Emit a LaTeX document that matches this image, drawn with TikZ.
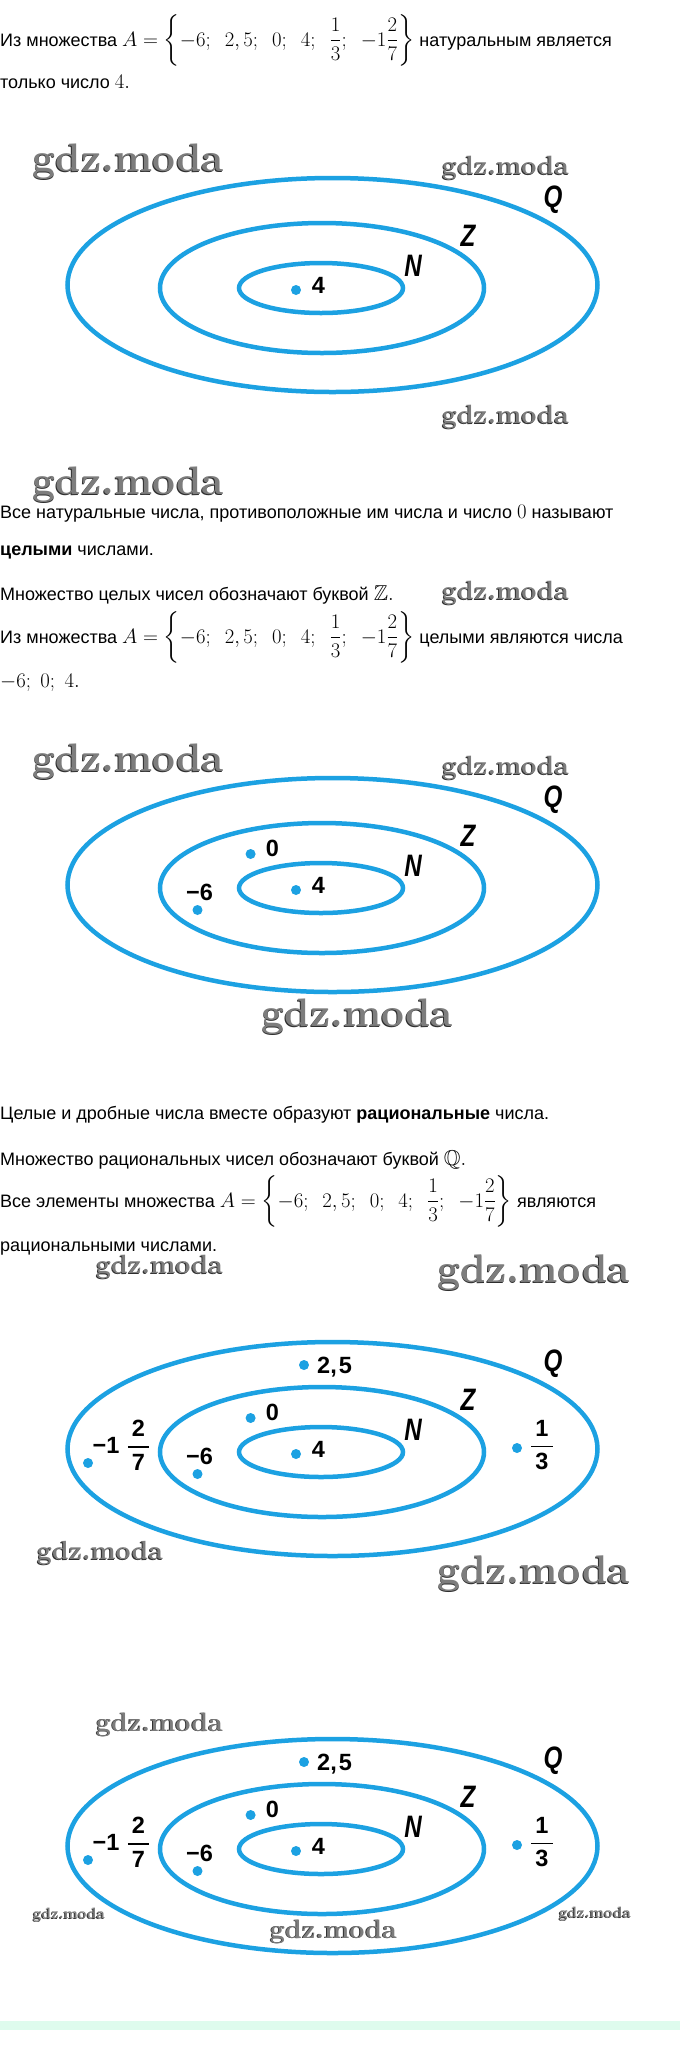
\documentclass[tikz,border=0pt]{standalone}
\usepackage{amsmath,amssymb}
\usepackage[no-math]{fontspec}
\usetikzlibrary{shapes.geometric,calc}
\newfontfamily\bodyfam{Liberation Sans}
\definecolor{eblue}{RGB}{28,161,226}
\definecolor{wmdark}{RGB}{45,45,45}
\definecolor{wmlight}{RGB}{125,125,125}
\definecolor{mint}{RGB}{222,251,237}
\newcommand\mth[1]{{\fontsize{21.5}{26}\selectfont$#1$}}
\newcommand\setA{A=\biggl\{-6;\ \:2,5;\ \:0;\ \:4;\ \:\dfrac{1}{3};\ \:-1\dfrac{2}{7}\biggr\}}
\newcommand\wmark[1]{\resizebox{#1}{!}{\normalfont\bfseries gdz.moda}}
\newcommand\lfrac[2]{\ensuremath{\genfrac{}{}{1.5pt}{0}{\,\text{#1}\,}{\,\text{#2}\,}}}
\tikzset{
 txt/.style={anchor=base west, inner sep=0pt, font=\bodyfam\fontsize{18}{22}\selectfont},
 ell/.style={ellipse, draw=eblue, line width=4.5pt, inner sep=0pt},
 dotn/.style={circle, fill=eblue, inner sep=0pt, minimum size=10pt},
 num/.style={inner sep=0pt, font=\bodyfam\bfseries\fontsize{23.5}{27}\selectfont},
 setl/.style={inner sep=0pt, font=\bodyfam\bfseries\itshape\fontsize{31}{35}\selectfont, xscale=0.78},
 wmback/.style={inner sep=0pt, text=wmdark},
 wm/.style={inner sep=0pt, text=wmlight},
}
% watermark: dark engraved layer with a lighter face on top
\newcommand\wmk[3]{%
 \node[wmback] (#1s) at ($(#2)+(-0.9,0.9)$) {\wmark{#3}};
 \node[wm] (#1) at (#2) {\wmark{#3}};
}
\newcommand\core[1]{%
 \node[ell, minimum width=530pt, minimum height=214pt] (Q#1) at (332.5,285) {};
 \node[ell, minimum width=324pt, minimum height=130pt] (Z#1) at (322,288) {};
 \node[ell, minimum width=164pt, minimum height=50pt] (N#1) at (321,288) {};
 \node[dotn] (d4#1) at (296,290) {};
 \node[num] (l4#1) at (318.5,285.5) {4};
 \node[setl] (lN#1) at (413,266) {N};
 \node[setl] (lZ#1) at (468,236) {Z};
 \node[setl] (lQ#1) at (553,200) {Q};
}
\newcommand\zeroSix[1]{%
 \node[dotn] (d0#1) at (250.6,254) {};
 \node[num] (l0#1) at (272.5,248.5) {0};
 \node[dotn] (dm6#1) at (197.5,310) {};
 \node[num] (lm6#1) at (199.5,292) {−6};
}
\newcommand\rational[1]{%
 \node[dotn] (d25#1) at (304,201) {};
 \node[num, anchor=base west] (l25#1) at (317,209) {2,\kern2pt 5};
 \node[dotn] (dm127#1) at (88,299) {};
 \node[num] (lm1#1) at (106,281.5) {−1};
 \node[num] (f27#1) at (138.5,281) {\lfrac{2}{7}};
 \node[dotn] (d13#1) at (517,284) {};
 \node[num] (f13#1) at (542,281) {\lfrac{1}{3}};
}
\begin{document}
\begin{tikzpicture}[x=1pt, y=-1pt]
\fill[white] (0,0) rectangle (680,2065);
\useasboundingbox (0,0) rectangle (680,2065);
% text block 1
\node[txt] (t1) at (0,46) {Из множества \mth{\setA} натуральным является};
\node[txt] (t2) at (0,88) {только число \mth{4.}};
% diagram 1
\core{a}
\wmk{w1}{128.5,161.5}{191pt}
\wmk{w2}{505.5,168}{127pt}
\wmk{w3}{505.5,417}{127pt}
% text block 2
\node[txt] (t3) at (0,518) {Все натуральные числа, противоположные им числа и число \mth{0} называют};
\node[txt] (t4) at (0,555) {\textbf{целыми} числами.};
\node[txt] (t5) at (0,600) {Множество целых чисел обозначают буквой \mth{\mathbb{Z}.}};
\node[txt] (t6) at (0,643) {Из множества \mth{\setA} целыми являются числа};
\node[txt] (t7) at (0,687) {\mth{-6;\ 0;\ 4.}};
\wmk{w4}{128.5,485}{191pt}
\wmk{w5}{505.5,593}{127pt}
% diagram 2
\begin{scope}[shift={(0,600)}]
 \core{b}
 \zeroSix{b}
\end{scope}
\wmk{w6}{128.5,761.5}{191pt}
\wmk{w7}{505.5,768}{127pt}
\wmk{w8}{357.5,1016.5}{191pt}
% text block 3
\node[txt] (t8) at (0,1119) {Целые и дробные числа вместе образуют \textbf{рациональные} числа.};
\node[txt] (t9) at (0,1165) {Множество рациональных чисел обозначают буквой \mth{\mathbb{Q}.}};
\node[txt] (t10) at (0,1207) {Все элементы множества \mth{\setA} являются};
\node[txt] (t11) at (0,1251) {рациональными числами.};
\wmk{w9}{159.5,1267}{127pt}
\wmk{w10}{534,1273}{192pt}
% diagram 3
\begin{scope}[shift={(0,1164)}]
 \core{c}
 \zeroSix{c}
 \rational{c}
\end{scope}
\wmk{w11}{100,1553}{126pt}
\wmk{w12}{534,1574}{192pt}
% diagram 4
\begin{scope}[shift={(0,1561)}]
 \core{d}
 \zeroSix{d}
 \rational{d}
\end{scope}
\wmk{w13}{159.5,1724.5}{127pt}
\wmk{w14}{69,1915}{72pt}
\wmk{w15}{595,1913.5}{72pt}
\wmk{w16}{333.5,1931.5}{127pt}
% bottom band
\fill[mint] (0,2021) rectangle (680,2030);
\end{tikzpicture}
\end{document}
